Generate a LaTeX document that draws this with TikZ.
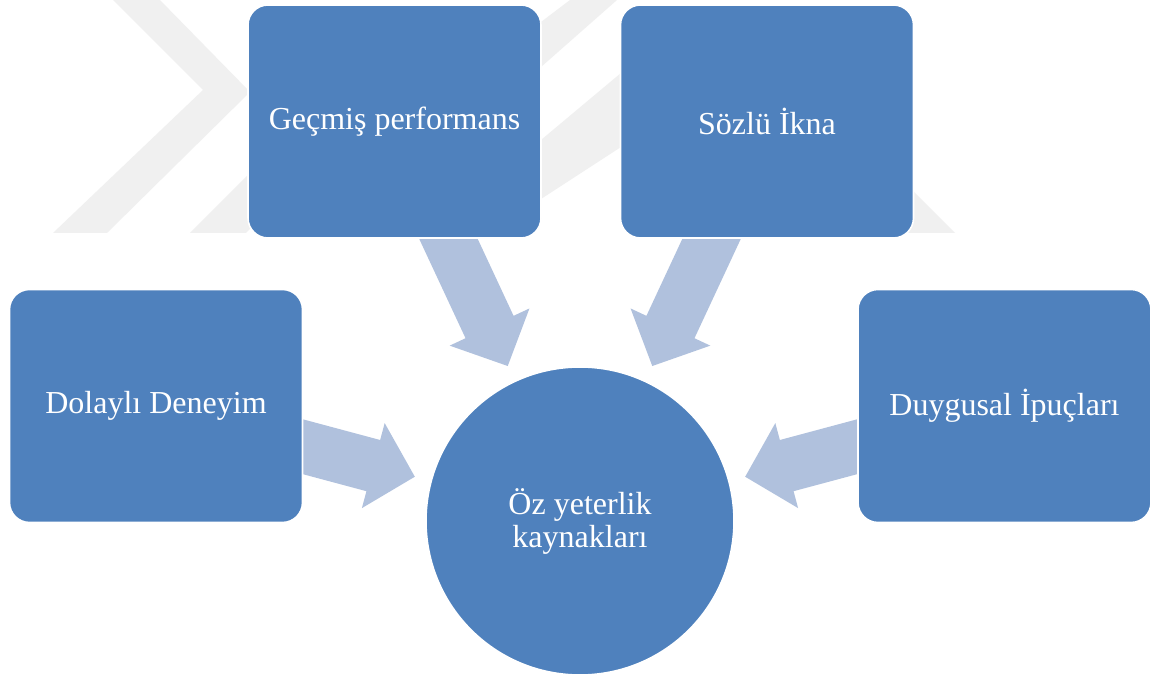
\documentclass[tikz,border=0pt]{standalone}
\usepackage{fontspec}
\setmainfont{Liberation Serif}
\definecolor{boxblue}{HTML}{4F81BD}
\definecolor{arrowblue}{HTML}{B0C1DD}
\definecolor{wmgray}{HTML}{F0F0F0}
\tikzset{
  srcbox/.style={rectangle, rounded corners=15pt, fill=boxblue, draw=white, line width=1.2pt,
    minimum width=219.75pt, minimum height=174.75pt, inner sep=0pt, text=white,
    font=\fontsize{24}{24.75}\selectfont},
  hub/.style={circle, fill=boxblue, draw=white, line width=1.2pt, minimum size=231pt,
    inner sep=0pt, text=white, align=center, font=\fontsize{24}{24.75}\selectfont},
  blockarrow/.style={fill=arrowblue},
  watermark/.style={fill=wmgray}
}
\begin{document}
\begin{tikzpicture}[x=0.75pt,y=0.75pt]
\useasboundingbox (0,0) rectangle (1160,677);
\fill[white] (0,0) rectangle (1160,677);
\begin{scope}
\clip (0,0) rectangle (1160,677);
% faint watermark
\fill[watermark] (113,680) -- (157,680) -- (250,585) -- (107,444) -- (53,444) -- (203,587) -- (110,680) -- cycle;
\fill[watermark] (190,444) -- (246,444) -- (330,528) -- (274,528) -- cycle;
\fill[watermark] (570,677) -- (617,677) -- (541,610) -- (541,655) -- cycle;
\fill[watermark] (621,604) -- (621,530) -- (541,478) -- (541,537) -- cycle;
\fill[watermark] (880,444) -- (955,444) -- (860,539) -- (785,539) -- cycle;
\end{scope}
% centre of the hub
\coordinate (c) at (580,156);
% block arrows pointing at the hub, tails hidden under the boxes
\foreach \a in {15,65,115,165} {
  \begin{scope}[shift={(c)}, rotate=\a]
    \fill[blockarrow] (171,0) -- (214,44) -- (214,26.5) -- (400,26.5) -- (400,-26.5) -- (214,-26.5) -- (214,-44) -- cycle;
  \end{scope}
}
% hub
\node[hub] (oz) at (c) {Öz yeterlik\\kaynakları};
% source boxes
\node[srcbox] (gecmis) at (394.5,555.5) {Geçmiş performans};
\node[srcbox] (sozlu) at (767,555.5) {Sözlü İkna};
\node[srcbox] (dolayli) at (156,271) {Dolaylı Deneyim};
\node[srcbox] (duygusal) at (1004.5,271) {Duygusal İpuçları};
\end{tikzpicture}
\end{document}
